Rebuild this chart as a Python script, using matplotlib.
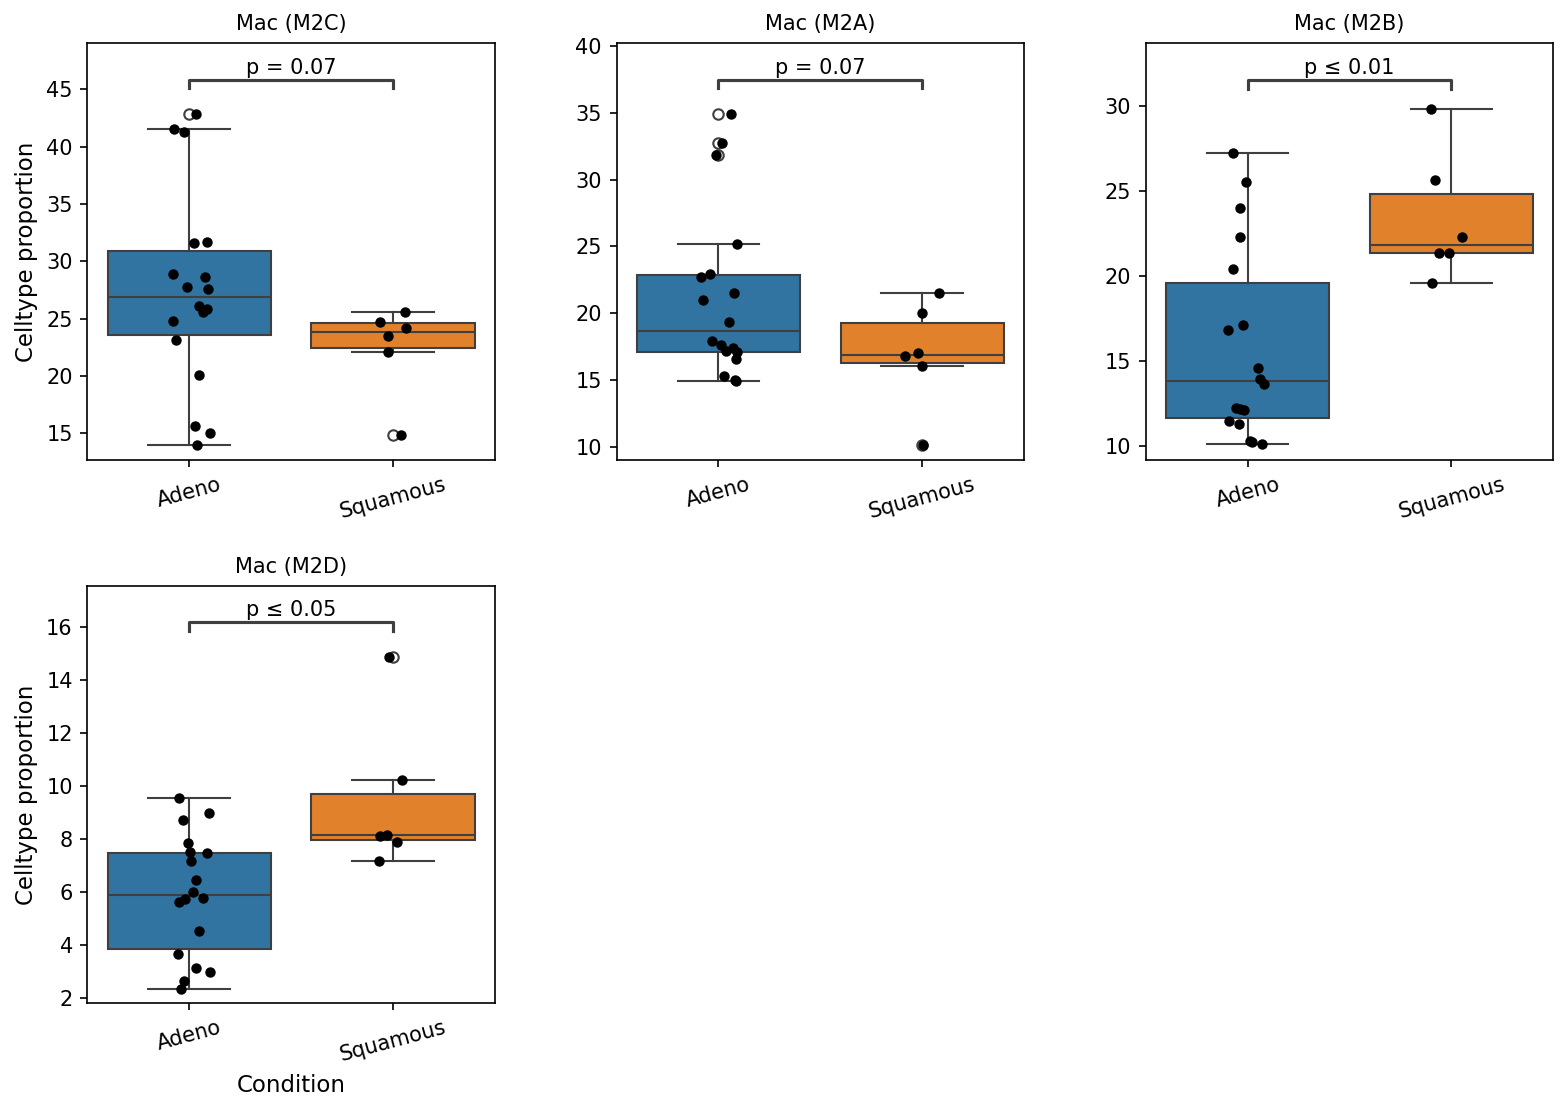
import numpy as np
import matplotlib
matplotlib.use("Agg")
import matplotlib.pyplot as plt

# === data ===

conditions = ["Adeno", "Squamous"]
celltypes = ["Mac (M2C)", "Mac (M2A)", "Mac (M2B)", "Mac (M2D)"]
p_labels = ["p = 0.07", "p = 0.07", "p ≤ 0.01", "p ≤ 0.05"]

m2c_adeno = [42.82, 41.52, 41.29, 31.60, 31.68, 28.90, 28.67, 27.80, 27.59,
             26.14, 25.85, 25.56, 24.81, 23.15, 20.11, 15.61, 15.06, 14.02]
m2c_squam = [25.59, 24.72, 24.20, 23.53, 22.11, 14.89]

m2a_adeno = [34.89, 32.72, 31.83, 25.20, 22.93, 22.71, 21.51, 21.01, 19.34,
             17.95, 17.65, 17.40, 17.20, 17.10, 16.58, 15.33, 14.98, 14.91]
m2a_squam = [21.51, 19.99, 16.78, 17.02, 16.08, 10.15]

m2b_adeno = [27.22, 25.51, 23.98, 22.27, 20.39, 17.10, 16.80, 14.57, 13.92,
             13.65, 12.22, 12.15, 12.10, 11.47, 11.27, 10.29, 10.22, 10.10]
m2b_squam = [29.80, 25.63, 22.27, 21.35, 21.35, 19.57]

m2d_adeno = [9.54, 8.98, 8.70, 7.84, 7.49, 7.46, 7.18, 6.44, 6.00,
             5.76, 5.72, 5.63, 4.51, 3.64, 3.11, 2.96, 2.64, 2.34]
m2d_squam = [14.88, 10.22, 8.12, 8.16, 7.88, 7.17]

# horizontal jitter of the strip points, as seen in the picture
m2c_adeno_jit = [0.031, -0.074, -0.026, 0.024, 0.086, -0.079, 0.076, -0.011, 0.090,
                 0.050, 0.086, 0.068, -0.079, -0.065, 0.047, 0.029, 0.100, 0.037]
m2c_squam_jit = [0.061, -0.065, 0.066, -0.026, -0.026, 0.039]
m2a_adeno_jit = [0.060, 0.016, -0.011, 0.091, -0.041, -0.084, 0.076, -0.075, 0.052,
                 -0.031, 0.015, 0.073, 0.037, 0.089, 0.084, 0.028, 0.079, 0.086]
m2a_squam_jit = [0.081, 0.0, -0.084, -0.019, 0.0, 0.005]
m2b_adeno_jit = [-0.070, -0.006, -0.036, -0.036, -0.074, -0.021, -0.094, 0.052, 0.061,
                 0.081, -0.055, -0.037, -0.019, -0.089, -0.040, 0.013, 0.021, 0.071]
m2b_squam_jit = [-0.099, -0.079, 0.050, -0.060, -0.011, -0.094]
m2d_adeno_jit = [-0.050, 0.095, -0.031, -0.006, 0.003, 0.086, 0.008, 0.032, 0.018,
                 0.066, -0.019, -0.050, 0.047, -0.055, 0.032, 0.100, -0.026, -0.040]
m2d_squam_jit = [-0.019, 0.044, -0.066, -0.031, 0.021, -0.071]

# === style ===

box_colors = ["#3274a1", "#e1812c"]
line_c = "#3f3f3f"
ylims = [(12.68, 49.06), (9.0, 40.25), (9.14, 33.73), (1.79, 17.55)]

panels = [
    (m2c_adeno, m2c_squam, m2c_adeno_jit, m2c_squam_jit),
    (m2a_adeno, m2a_squam, m2a_adeno_jit, m2a_squam_jit),
    (m2b_adeno, m2b_squam, m2b_adeno_jit, m2b_squam_jit),
    (m2d_adeno, m2d_squam, m2d_adeno_jit, m2d_squam_jit),
]

fig, axes = plt.subplots(2, 3, figsize=(1568 / 150, 1113 / 150), dpi=150)
fig.subplots_adjust(left=0.0557, right=0.9906, top=0.9616, bottom=0.0986,
                    wspace=0.2985, hspace=0.3014)
axes[1, 1].remove()
axes[1, 2].remove()
ax_list = [axes[0, 0], axes[0, 1], axes[0, 2], axes[1, 0]]

for i, ax in enumerate(ax_list):
    adeno, squam, jit_a, jit_s = panels[i]
    groups = [np.array(adeno), np.array(squam)]
    jits = [np.array(jit_a), np.array(jit_s)]

    bp = ax.boxplot(groups, positions=[0, 1], widths=0.8, patch_artist=True,
                    whis=1.5,
                    boxprops=dict(edgecolor=line_c, linewidth=1.0),
                    medianprops=dict(color=line_c, linewidth=1.0),
                    whiskerprops=dict(color=line_c, linewidth=1.0),
                    capprops=dict(color=line_c, linewidth=1.0),
                    flierprops=dict(marker="o", markersize=5,
                                    markerfacecolor="none",
                                    markeredgecolor=line_c,
                                    markeredgewidth=1.0))
    for patch, col in zip(bp["boxes"], box_colors):
        patch.set_facecolor(col)

    for k, (vals, jit) in enumerate(zip(groups, jits)):
        ax.scatter(k + jit, vals, s=25, color="black", linewidths=0, zorder=3)

    ax.set_xlim(-0.5, 1.5)
    ylo, yhi = ylims[i]
    ax.set_ylim(ylo, yhi)
    ax.set_xticks([0, 1])
    ax.set_xticklabels(conditions, rotation=15, fontsize=10)
    ax.tick_params(axis="y", labelsize=10)
    ax.set_title(celltypes[i], fontsize=10)

    # significance bracket placed just above the tallest element
    top = max(g.max() for g in groups)
    is_flier = False
    for g in groups:
        q1, q3 = np.percentile(g, [25, 75])
        if g.max() == top and top > q3 + 1.5 * (q3 - q1):
            is_flier = True
    span = yhi - ylo
    tip = top + (0.050 + (0.012 if is_flier else 0.0)) * span
    bar = tip + 0.02 * span
    ax.plot([0, 0, 1, 1], [tip, bar, bar, tip], color=line_c, lw=1.5,
            clip_on=False)
    ax.annotate(p_labels[i], xy=(0.5, bar), xytext=(0, 1),
                textcoords="offset points", ha="center", va="bottom",
                fontsize=10)

for ax in [axes[0, 0], axes[1, 0]]:
    ax.set_ylabel("Celltype proportion", fontsize=11)
axes[1, 0].set_xlabel("Condition", fontsize=11)

plt.savefig("out.png", dpi=150)
plt.close()
